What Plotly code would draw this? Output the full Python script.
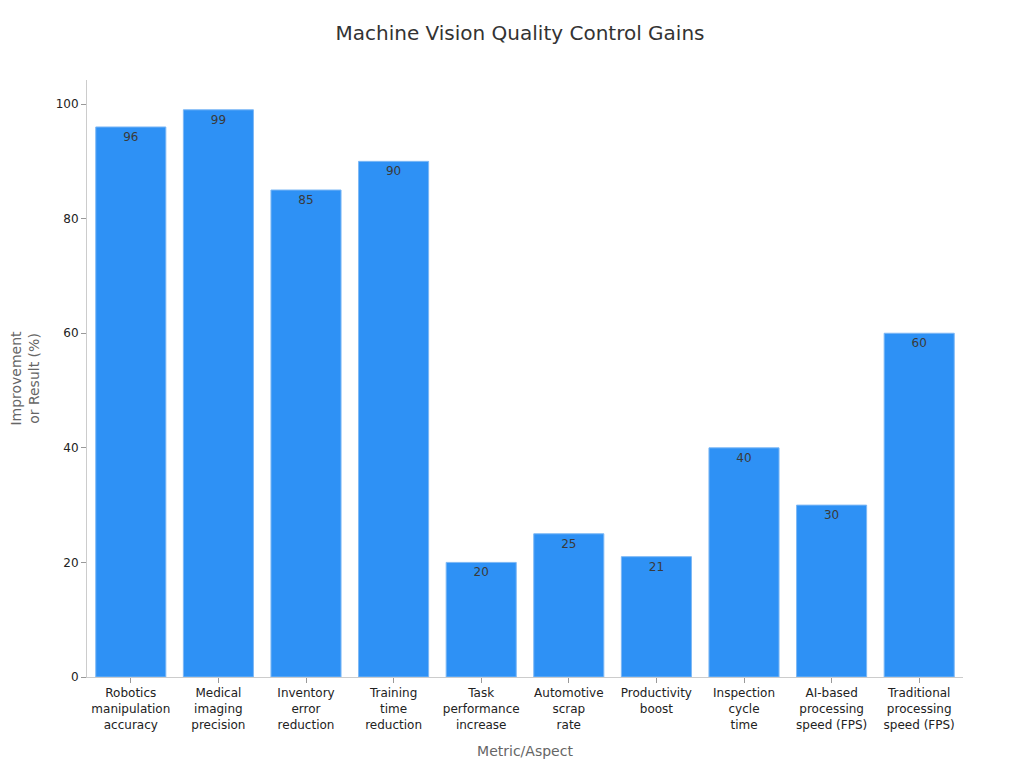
import plotly.graph_objects as go

categories = [
    "Robotics<br>manipulation<br>accuracy",
    "Medical<br>imaging<br>precision",
    "Inventory<br>error<br>reduction",
    "Training<br>time<br>reduction",
    "Task<br>performance<br>increase",
    "Automotive<br>scrap<br>rate",
    "Productivity<br>boost",
    "Inspection<br>cycle<br>time",
    "AI-based<br>processing<br>speed (FPS)",
    "Traditional<br>processing<br>speed (FPS)",
]
values = [96, 99, 85, 90, 20, 25, 21, 40, 30, 60]
y_ticks = [0, 20, 40, 60, 80, 100]

fig = go.Figure(go.Bar(
    x=categories,
    y=values,
    text=[str(v) for v in values],
    textposition="inside",
    insidetextanchor="end",
    textfont=dict(color="#3a3a3a", size=12),
    marker=dict(color="#2E91F5", line=dict(color="#7DB8F5", width=1)),
))

fig.update_layout(
    width=1024, height=768,
    paper_bgcolor="white", plot_bgcolor="white",
    font=dict(family="DejaVu Sans", color="#222222", size=12),
    title=dict(text="Machine Vision Quality Control Gains", x=0.5, xanchor="center",
               y=1 - 25 / 768, yanchor="middle", font=dict(size=20, color="#333333")),
    margin=dict(l=79, r=69, t=72, b=99),
    bargap=0.2,
    showlegend=False,
)
fig.update_xaxes(
    title=dict(text="Metric/Aspect", font=dict(size=14, color="#666666")),
    showline=True, linecolor="#CCCCCC", ticks="outside", tickcolor="#999999",
    ticklen=5, showgrid=False, tickfont=dict(size=12, color="#222222"),
)
fig.update_yaxes(
    title=dict(text="Improvement<br>or Result (%)", font=dict(size=14, color="#666666"),
               standoff=20),
    automargin=False,
    range=[0, 104.2], tickvals=y_ticks,
    showline=True, linecolor="#CCCCCC", ticks="outside", tickcolor="#999999",
    ticklen=5, showgrid=False, zeroline=False, tickfont=dict(size=12, color="#222222"),
)

fig.write_html("out.html")
